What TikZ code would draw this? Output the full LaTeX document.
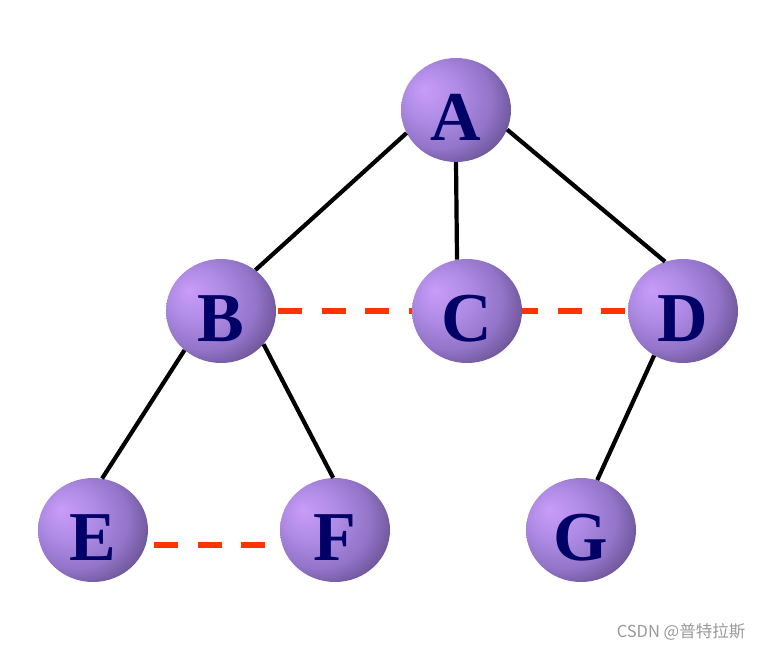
\documentclass[tikz,border=0pt]{standalone}
\usepackage{fontspec}
\setmainfont{Liberation Serif}
\newfontfamily\cjkfont{Noto Sans CJK SC}
\usetikzlibrary{shapes.geometric}

\definecolor{balllight}{HTML}{C99CF9}
\definecolor{ballsoft}{HTML}{B08CE6}
\definecolor{ballmid}{HTML}{9274C8}
\definecolor{balldark}{HTML}{5A4680}
\definecolor{letterblue}{HTML}{000066}
\definecolor{linkred}{HTML}{FF3300}
\pgfdeclareradialshading{purpleball}{\pgfpoint{-15bp}{10bp}}{%
  color(0bp)=(balllight); color(12bp)=(ballsoft); color(24bp)=(ballmid);
  color(36bp)=(balldark); color(50bp)=(balldark)}

\begin{document}
\begin{tikzpicture}[x=1pt,y=-1pt,
  treenode/.style={ellipse,minimum width=110pt,minimum height=104pt,
    inner sep=0pt,shading=purpleball,text=letterblue,
    font=\fontsize{70}{70}\selectfont\bfseries,
    text height=60pt,text depth=0pt},
  treeedge/.style={line width=4.2pt},
  sibling/.style={line width=6pt,linkred,dash pattern=on 24pt off 19.5pt}]
  \useasboundingbox (0,0) rectangle (765,650);
  % nodes
  \node[treenode] (A) at (456,110) {A};
  \node[treenode] (B) at (221,311) {B};
  \node[treenode] (C) at (467,311) {C};
  \node[treenode] (D) at (683,311) {D};
  \node[treenode] (E) at (93,530) {E};
  \node[treenode] (F) at (335,530) {F};
  \node[treenode] (G) at (581,530) {G};
  % tree edges
  \draw[treeedge] (A.205) -- (B.50);
  \draw[treeedge] (A.270) -- (C.101);
  \draw[treeedge] (A.339) -- (D.110);
  \draw[treeedge] (B.227) -- (E.80);
  \draw[treeedge] (B.322) -- (F.92);
  \draw[treeedge] (D.237) -- (G.72);
  % sibling links
  \draw[sibling] ([xshift=2pt]B.east) -- (C.west);
  \draw[sibling,dash phase=8pt] (C.east) -- (D.west);
  \draw[sibling] ([xshift=6pt,yshift=-15pt]E.east) -- ([xshift=-15pt,yshift=-15pt]F.west);
  % watermark
  \node[text=black!40,font=\cjkfont\fontsize{16.5}{16.5}\selectfont] (mark)
    at (681,632) {CSDN @普特拉斯};
\end{tikzpicture}
\end{document}
